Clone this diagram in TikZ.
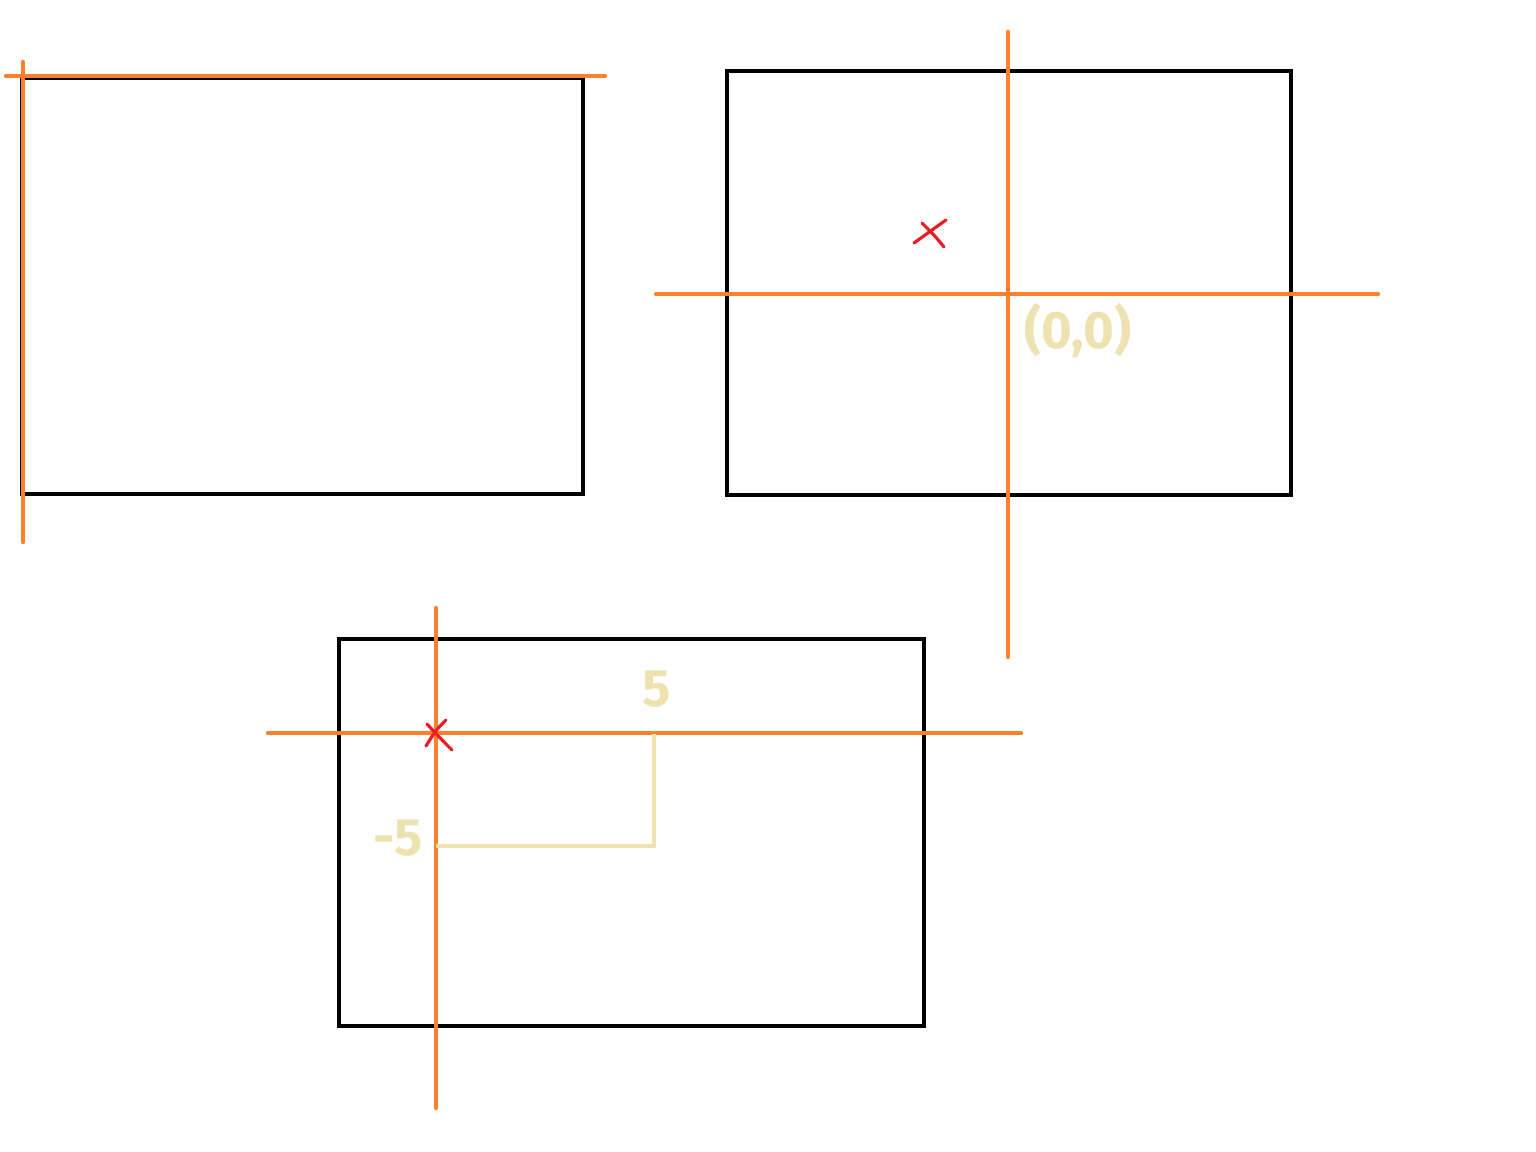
\documentclass[tikz,border=0pt]{standalone}
\usepackage{fontspec}
\setmainfont{Fira Sans}
\usepackage{xcolor}
\usetikzlibrary{positioning}

\definecolor{axisorange}{HTML}{FF7F2A}
\definecolor{markred}{HTML}{ED1C24}
\definecolor{guidebeige}{HTML}{EEE3B0}

\begin{document}
\begin{tikzpicture}[
x=0.02cm, y=-0.02cm,
frame/.style={draw=black, line width=2.5pt},
axis/.style={draw=axisorange, line width=2.5pt, line cap=round},
cross/.style={draw=markred, line width=1.8pt, line cap=round},
guide/.style={draw=guidebeige, line width=2.2pt},
coordlabel/.style={text=guidebeige, font=\bfseries\fontsize{30}{34}\selectfont, inner sep=0pt}
]
\useasboundingbox (0,0) rectangle (1536,1152);

% --- Top left frame ---
\draw[frame] (22,78) rectangle (583,494);
\draw[axis] (6,76) -- (605,76);
\draw[axis] (23,62) -- (23,542);

% --- Top right frame ---
\draw[frame] (727,71) rectangle (1291,495);
\draw[axis] (656,294) -- (1378,294);
\draw[axis] (1008,32) -- (1008,657);
\draw[cross] (914,243) .. controls (930,232) .. (946,220);
\draw[cross] (922,223) .. controls (935,236) .. (944,247);
\node[coordlabel] (origin) at (1078,331) {(0,0)};

% --- Bottom frame ---
\draw[frame] (339,639) rectangle (924,1026);
\draw[axis] (268,733) -- (1021,733);
\draw[axis] (436,608) -- (436,1108);
\draw[cross] (446,720) .. controls (436,730) .. (426,746);
\draw[cross] (427,724) .. controls (440,738) .. (452,750);

% --- Offset guides ---
\coordinate (corner) at (654,846);
\coordinate (xend) at (654,734);
\coordinate (ystart) at (436,846);
\draw[guide] (ystart) -- (corner) -- (xend);
\node[coordlabel] (xval) at (657,689) {5};
\node[coordlabel] (yval) at (398,838) {-5};

\end{tikzpicture}
\end{document}
